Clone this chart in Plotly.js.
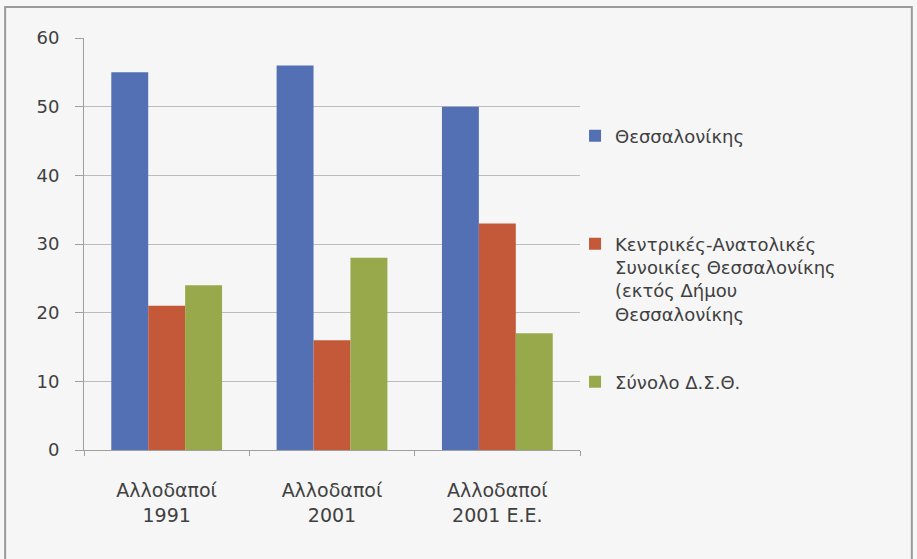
<!DOCTYPE html>
<html>
<head>
<meta charset="utf-8">
<script src="https://cdn.plot.ly/plotly-3.0.1.min.js"></script>
<style>html,body{margin:0;padding:0;background:#f6f6f6;}</style>
</head>
<body>
<div id="chart" style="width:917px;height:559px;"></div>
<script>
const categories = ["Αλλοδαποί<br>1991", "Αλλοδαποί<br>2001", "Αλλοδαποί<br>2001 Ε.Ε."];
const seriesNames = [
  "Θεσσαλονίκης",
  "Κεντρικές-Ανατολικές<br>Συνοικίες Θεσσαλονίκης<br>(εκτός Δήμου<br>Θεσσαλονίκης",
  "Σύνολο Δ.Σ.Θ."
];
const thessaloniki = [55, 56, 50];
const kentrikes = [21, 16, 33];
const synolo = [24, 28, 17];
const colors = ["#5470b4", "#c4593a", "#97a94a"];
const yTicks = [0, 10, 20, 30, 40, 50, 60];

const values = [thessaloniki, kentrikes, synolo];
const legendIds = ["legend", "legend2", "legend3"];
const traces = values.map((v, i) => ({
  type: "bar",
  x: categories,
  y: v,
  name: seriesNames[i],
  marker: {color: colors[i]},
  legend: legendIds[i],
  hoverinfo: "none"
}));

const FAM = "DejaVu Sans, Open Sans, sans-serif";
const TXT = "#404040";
const legendBase = {
  font: {family: FAM, size: 18, color: TXT},
  bgcolor: "rgba(0,0,0,0)",
  xanchor: "left",
  valign: "top",
  itemwidth: 30,
  tracegroupgap: 0
};

const layout = {
  width: 917,
  height: 559,
  paper_bgcolor: "#f6f6f6",
  plot_bgcolor: "#f6f6f6",
  margin: {l: 84, r: 337, t: 38, b: 109},
  font: {family: FAM, size: 18, color: TXT},
  barmode: "group",
  bargap: 0.33,
  bargroupgap: 0,
  showlegend: true,
  legend: Object.assign({}, legendBase, {x: 0.99, y: 0.762, yanchor: "middle"}),
  legend2: Object.assign({}, legendBase, {x: 0.99, y: 0.545, yanchor: "top"}),
  legend3: Object.assign({}, legendBase, {x: 0.99, y: 0.165, yanchor: "middle"}),
  xaxis: {
    type: "category",
    tickson: "boundaries",
    ticks: "outside",
    ticklen: 5,
    tickcolor: "#a0a0a0",
    showline: true,
    linecolor: "#a0a0a0",
    linewidth: 1,
    showgrid: false,
    tickfont: {family: FAM, size: 19, color: TXT},
    ticklabelstandoff: 23,
    fixedrange: true
  },
  yaxis: {
    range: [0, 60],
    tickvals: yTicks,
    ticktext: yTicks.map(String),
    ticks: "outside",
    ticklen: 8,
    tickcolor: "#a0a0a0",
    showline: true,
    linecolor: "#a0a0a0",
    linewidth: 1,
    showgrid: true,
    gridcolor: "#bcbcbc",
    gridwidth: 1,
    zeroline: false,
    tickfont: {family: FAM, size: 18, color: TXT},
    ticklabelstandoff: 12,
    fixedrange: true
  },
  shapes: [{
    type: "rect",
    xref: "paper", yref: "paper",
    x0: -0.159, x1: 1.669, y0: -0.5, y1: 1.075,
    line: {color: "#9a9a9a", width: 2},
    fillcolor: "rgba(0,0,0,0)",
    layer: "below"
  }]
};

Plotly.newPlot("chart", traces, layout, {displayModeBar: false, staticPlot: true});
</script>
</body>
</html>
